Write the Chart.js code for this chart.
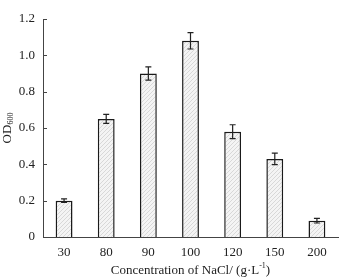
<!DOCTYPE html>
<html>
<head>
<meta charset="utf-8">
<script src="https://cdn.jsdelivr.net/npm/chart.js@4/dist/chart.umd.min.js"></script>
<style>
  html, body { margin: 0; padding: 0; background: #fff; }
  #wrap { width: 362px; height: 279px; }
</style>
</head>
<body>
<div id="wrap"><canvas id="chart" width="362" height="279"></canvas></div>
<script>
// data
const categories = ["30", "80", "90", "100", "120", "150", "200"];
const odValues = [0.20, 0.65, 0.90, 1.08, 0.58, 0.43, 0.09];
const odErrors = [0.01, 0.025, 0.037, 0.045, 0.038, 0.032, 0.013];
const yTicks = [0, 0.2, 0.4, 0.6, 0.8, 1.0, 1.2];

const FONT = "'Liberation Serif', 'DejaVu Serif', serif";
const AXIS_COLOR = "#444";

// light grey fill with fine diagonal hatching
function makeHatch() {
    const c = document.createElement("canvas");
    c.width = 4;
    c.height = 4;
    const g = c.getContext("2d");
    g.fillStyle = "#f4f4f4";
    g.fillRect(0, 0, 4, 4);
    g.strokeStyle = "#d0d0d0";
    g.lineWidth = 0.8;
    g.beginPath();
    g.moveTo(0, 4); g.lineTo(4, 0);
    g.moveTo(-1, 1); g.lineTo(1, -1);
    g.moveTo(3, 5); g.lineTo(5, 3);
    g.stroke();
    return g.createPattern(c, "repeat");
}

// error bars + inward y ticks + axis titles (with sub/superscripts)
const extrasPlugin = {
    id: "extras",
    afterDatasetsDraw(chart) {
        const ctx = chart.ctx;
        const y = chart.scales.y;
        const meta = chart.getDatasetMeta(0);
        ctx.save();
        ctx.strokeStyle = "#222";
        ctx.lineWidth = 1.2;
        meta.data.forEach((bar, i) => {
            const v = odValues[i], e = odErrors[i];
            const top = y.getPixelForValue(v + e);
            const bot = y.getPixelForValue(v - e);
            ctx.beginPath();
            ctx.moveTo(bar.x, top); ctx.lineTo(bar.x, bot);
            ctx.moveTo(bar.x - 3, top); ctx.lineTo(bar.x + 3, top);
            ctx.moveTo(bar.x - 3, bot); ctx.lineTo(bar.x + 3, bot);
            ctx.stroke();
        });
        ctx.restore();
    },
    afterDraw(chart) {
        const ctx = chart.ctx;
        const area = chart.chartArea;
        const y = chart.scales.y;
        ctx.save();
        // inward ticks on the y axis
        ctx.strokeStyle = AXIS_COLOR;
        ctx.lineWidth = 1;
        yTicks.forEach(t => {
            const py = Math.round(y.getPixelForValue(t)) + 0.5;
            ctx.beginPath();
            ctx.moveTo(area.left, py);
            ctx.lineTo(area.left + 4, py);
            ctx.stroke();
        });

        ctx.fillStyle = "#222";
        // x title
        const base = "Concentration of NaCl/ (g\u00B7L";
        ctx.font = "13px " + FONT;
        const w1 = ctx.measureText(base).width;
        ctx.font = "8px " + FONT;
        const w2 = ctx.measureText("-1").width;
        ctx.font = "13px " + FONT;
        const w3 = ctx.measureText(")").width;
        let x0 = (area.left + area.right) / 2 - (w1 + w2 + w3) / 2;
        const ty = 271;
        ctx.textBaseline = "middle";
        ctx.textAlign = "left";
        ctx.fillText(base, x0, ty);
        ctx.font = "8px " + FONT;
        ctx.fillText("-1", x0 + w1, ty - 5);
        ctx.font = "13px " + FONT;
        ctx.fillText(")", x0 + w1 + w2, ty);

        // y title, rotated
        ctx.translate(8, (area.top + area.bottom) / 2);
        ctx.rotate(-Math.PI / 2);
        ctx.font = "13px " + FONT;
        const wa = ctx.measureText("OD").width;
        ctx.font = "8px " + FONT;
        const wb = ctx.measureText("600").width;
        const sx = -(wa + wb) / 2;
        ctx.font = "13px " + FONT;
        ctx.fillText("OD", sx, 0);
        ctx.font = "8px " + FONT;
        ctx.fillText("600", sx + wa, 3);
        ctx.restore();
    }
};

const ctx = document.getElementById("chart").getContext("2d");
new Chart(ctx, {
    type: "bar",
    data: {
        labels: categories,
        datasets: [{
            data: odValues,
            backgroundColor: makeHatch(),
            borderColor: "#1a1a1a",
            borderWidth: 1.5,
            barPercentage: 0.8,
            categoryPercentage: 0.5
        }]
    },
    options: {
        responsive: false,
        animation: false,
        devicePixelRatio: 1,
        layout: { padding: { top: 19, right: 24, left: 0, bottom: 0 } },
        plugins: {
            legend: { display: false },
            tooltip: { enabled: false }
        },
        scales: {
            x: {
                grid: { display: false, drawTicks: false },
                border: { display: true, color: AXIS_COLOR, width: 1 },
                ticks: { color: "#222", font: { family: FONT, size: 13 }, padding: 8 },
                afterFit(s) { s.height = 42; }
            },
            y: {
                min: 0,
                max: 1.2,
                grid: { display: false, drawTicks: false },
                border: { display: true, color: AXIS_COLOR, width: 1 },
                afterBuildTicks(s) { s.ticks = yTicks.map(v => ({ value: v })); },
                ticks: {
                    color: "#222",
                    font: { family: FONT, size: 13 },
                    padding: 8,
                    callback: v => (v === 0 ? "0" : v.toFixed(1))
                },
                afterFit(s) { s.width = 43; }
            }
        }
    },
    plugins: [extrasPlugin]
});
</script>
</body>
</html>
